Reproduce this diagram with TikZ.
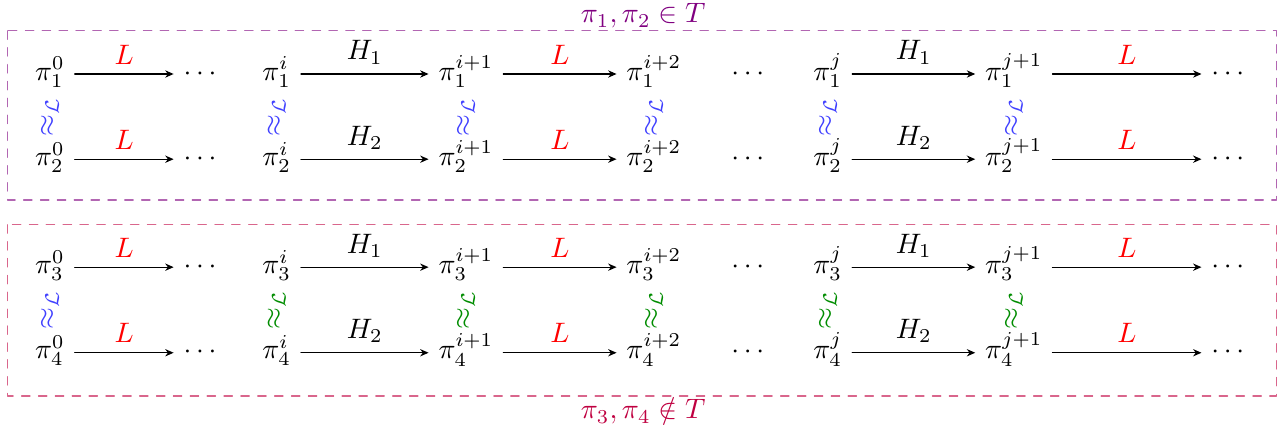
\documentclass[tikz,border=0pt]{standalone}
\usetikzlibrary{arrows.meta}

\begin{document}
\begin{tikzpicture}[x=1cm,y=1cm,>={Stealth[length=3pt,width=2.6pt]},line cap=round,line join=round,
    st/.style={text height=1.2ex,text depth=.2ex},
    lab/.style={midway,above}]
  \useasboundingbox (0,0) rectangle (16.04,-5.39);
  \draw[violet!60,dashed] (.09,-.385) rectangle (15.96,-2.5);
  \draw[purple!60,dashed] (.09,-2.81) rectangle (15.96,-4.95);
  \node[violet,inner sep=1pt] (intop) at (8.04,-.2) {$\pi_1,\pi_2\in T$};
  \node[purple,inner sep=1pt] (notin) at (8.04,-5.14) {$\pi_3,\pi_4\notin T$};
  \foreach \r/\y/\h in {1/-.925/1,2/-1.99/2,3/-3.34/1,4/-4.41/2}{
    \node[st] (a\r) at (.625,\y) {$\pi_\r^0$};
    \node[st] (b\r) at (2.5,\y) {$\cdots$};
    \node[st] (c\r) at (3.46,\y) {$\pi_\r^i$};
    \node[st] (d\r) at (5.825,\y) {$\pi_\r^{i+1}$};
    \node[st] (e\r) at (8.175,\y) {$\pi_\r^{i+2}$};
    \node[st] (f\r) at (9.35,\y) {$\cdots$};
    \node[st] (g\r) at (10.35,\y) {$\pi_\r^j$};
    \node[st] (h\r) at (12.675,\y) {$\pi_\r^{j+1}$};
    \node[st] (k\r) at (15.35,\y) {$\cdots$};
    \draw[->] (a\r) -- node[lab,red] {$L$} (b\r);
    \draw[->] (c\r) -- node[lab] {$H_\h$} (d\r);
    \draw[->] (d\r) -- node[lab,red] {$L$} (e\r);
    \draw[->] (g\r) -- node[lab] {$H_\h$} (h\r);
    \draw[->] (h\r) -- node[lab,red] {$L$} (k\r);
  }
  \foreach \n/\x/\c in {a/.625/blue!75,c/3.46/green!55!black,d/5.825/green!55!black,
      e/8.175/green!55!black,g/10.35/green!55!black,h/12.675/green!55!black}{
    \node[rotate=90,blue!75] (up\n) at (\x,-1.46) {$\approx_{\mathcal{L}}$};
    \node[rotate=90,\c] (lo\n) at (\x,-3.88) {$\approx_{\mathcal{L}}$};
  }
\end{tikzpicture}
\end{document}
